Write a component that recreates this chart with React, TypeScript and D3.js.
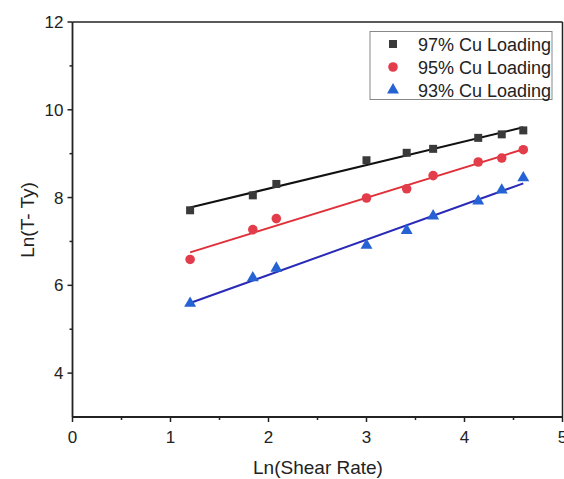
import React from "react";
import * as d3 from "d3";

const shearLn = [1.2, 1.84, 2.08, 3.0, 3.41, 3.68, 4.14, 4.38, 4.6];
const cu97 = [7.71, 8.05, 8.31, 8.85, 9.02, 9.11, 9.36, 9.44, 9.53];
const cu95 = [6.59, 7.27, 7.52, 7.99, 8.2, 8.5, 8.81, 8.9, 9.09];
const cu93 = [5.59, 6.17, 6.39, 6.91, 7.25, 7.58, 7.92, 8.17, 8.45];
const seriesNames = ["97% Cu Loading", "95% Cu Loading", "93% Cu Loading"];
const xTicks = [0, 1, 2, 3, 4, 5];
const yTicks = [4, 6, 8, 10, 12];

const W = 564;
const H = 479;
const m = { left: 72.5, right: 562.5, top: 22, bottom: 417 };
const font = "'Liberation Sans', Arial, sans-serif";

function fit(xs: number[], ys: number[]) {
  const mx = d3.mean(xs)!;
  const my = d3.mean(ys)!;
  let sxy = 0, sxx = 0;
  xs.forEach((x, i) => {
    sxy += (x - mx) * (ys[i] - my);
    sxx += (x - mx) * (x - mx);
  });
  const b = sxy / sxx;
  return (x: number) => my + b * (x - mx);
}

export default function App() {
  const x = d3.scaleLinear().domain([0, 5]).range([m.left, m.right]);
  const y = d3.scaleLinear().domain([3, 12]).range([m.bottom, m.top]);

  const series = [
    { name: seriesNames[0], vals: cu97, marker: "square", mcol: "#3a3a3a", lcol: "#111111" },
    { name: seriesNames[1], vals: cu95, marker: "circle", mcol: "#e33d4b", lcol: "#e0303a" },
    { name: seriesNames[2], vals: cu93, marker: "triangle", mcol: "#2563d4", lcol: "#2a2ab8" },
  ];

  const sym = (kind: string) =>
    kind === "square"
      ? d3.symbol().type(d3.symbolSquare).size(64)()
      : kind === "circle"
      ? d3.symbol().type(d3.symbolCircle).size(72)()
      : d3.symbol().type(d3.symbolTriangle).size(62)();

  const xMinor = d3.range(0.5, 5, 1);
  const yMinor = d3.range(3, 12, 2).filter((v) => v > 3);

  const line = d3.line<number>().x((d) => x(d[0] as any)).y((d) => y(d[1] as any));

  return (
    <svg width={W} height={H} style={{ position: "absolute", left: 0, top: 0, background: "#fff" }}>
      <rect x={0} y={0} width={W} height={H} fill="#fff" />
      {/* fit lines */}
      {series.map((s) => {
        const f = fit(shearLn, s.vals);
        const x0 = shearLn[0], x1 = shearLn[shearLn.length - 1];
        return (
          <line key={s.name + "l"} x1={x(x0)} y1={y(f(x0))} x2={x(x1)} y2={y(f(x1))} stroke={s.lcol} strokeWidth={2} />
        );
      })}
      {/* markers */}
      {series.map((s) =>
        s.vals.map((v, i) => (
          <path key={s.name + i} d={sym(s.marker)!} transform={`translate(${x(shearLn[i])},${y(v)})`} fill={s.mcol} />
        ))
      )}
      {/* frame */}
      <line x1={m.left} x2={m.right} y1={m.top} y2={m.top} stroke="#222" strokeWidth={1.5} />
      <line x1={m.right} x2={m.right} y1={m.top} y2={m.bottom} stroke="#222" strokeWidth={1.5} />
      <line x1={m.left} x2={m.left} y1={m.top} y2={m.bottom} stroke="#222" strokeWidth={1.8} />
      <line x1={m.left} x2={m.right} y1={m.bottom} y2={m.bottom} stroke="#222" strokeWidth={1.8} />
      {/* x ticks */}
      {xTicks.map((t) => (
        <g key={"xt" + t}>
          <line x1={x(t)} x2={x(t)} y1={m.bottom} y2={m.bottom + 5} stroke="#222" strokeWidth={1.5} />
          <text x={x(t)} y={443} textAnchor="middle" fontFamily={font} fontSize={17} fill="#222">{t}</text>
        </g>
      ))}
      {xMinor.map((t) => (
        <line key={"xm" + t} x1={x(t)} x2={x(t)} y1={m.bottom} y2={m.bottom + 3} stroke="#222" strokeWidth={1.5} />
      ))}
      {/* y ticks */}
      {yTicks.map((t) => (
        <g key={"yt" + t}>
          <line x1={m.left - 5} x2={m.left} y1={y(t)} y2={y(t)} stroke="#222" strokeWidth={1.5} />
          <text x={m.left - 9} y={y(t) + 6} textAnchor="end" fontFamily={font} fontSize={17} fill="#222">{t}</text>
        </g>
      ))}
      {yMinor.map((t) => (
        <line key={"ym" + t} x1={m.left - 3} x2={m.left} y1={y(t)} y2={y(t)} stroke="#222" strokeWidth={1.5} />
      ))}
      {/* axis titles */}
      <text x={318} y={474} textAnchor="middle" fontFamily={font} fontSize={19} fill="#222">Ln(Shear Rate)</text>
      <text transform="translate(34,220) rotate(-90)" textAnchor="middle" fontFamily={font} fontSize={19} fill="#222">Ln(T- Ty)</text>
      {/* legend */}
      <rect x={370} y={31.5} width={182} height={68} fill="#fff" stroke="#888" strokeWidth={1} />
      {series.map((s, i) => (
        <g key={s.name + "lg"}>
          <path d={sym(s.marker)!} transform={`translate(393,${44 + i * 23})`} fill={s.mcol} />
          <text x={418} y={44 + i * 23 + 6.5} fontFamily={font} fontSize={18} fill="#222">{s.name}</text>
        </g>
      ))}
    </svg>
  );
}
